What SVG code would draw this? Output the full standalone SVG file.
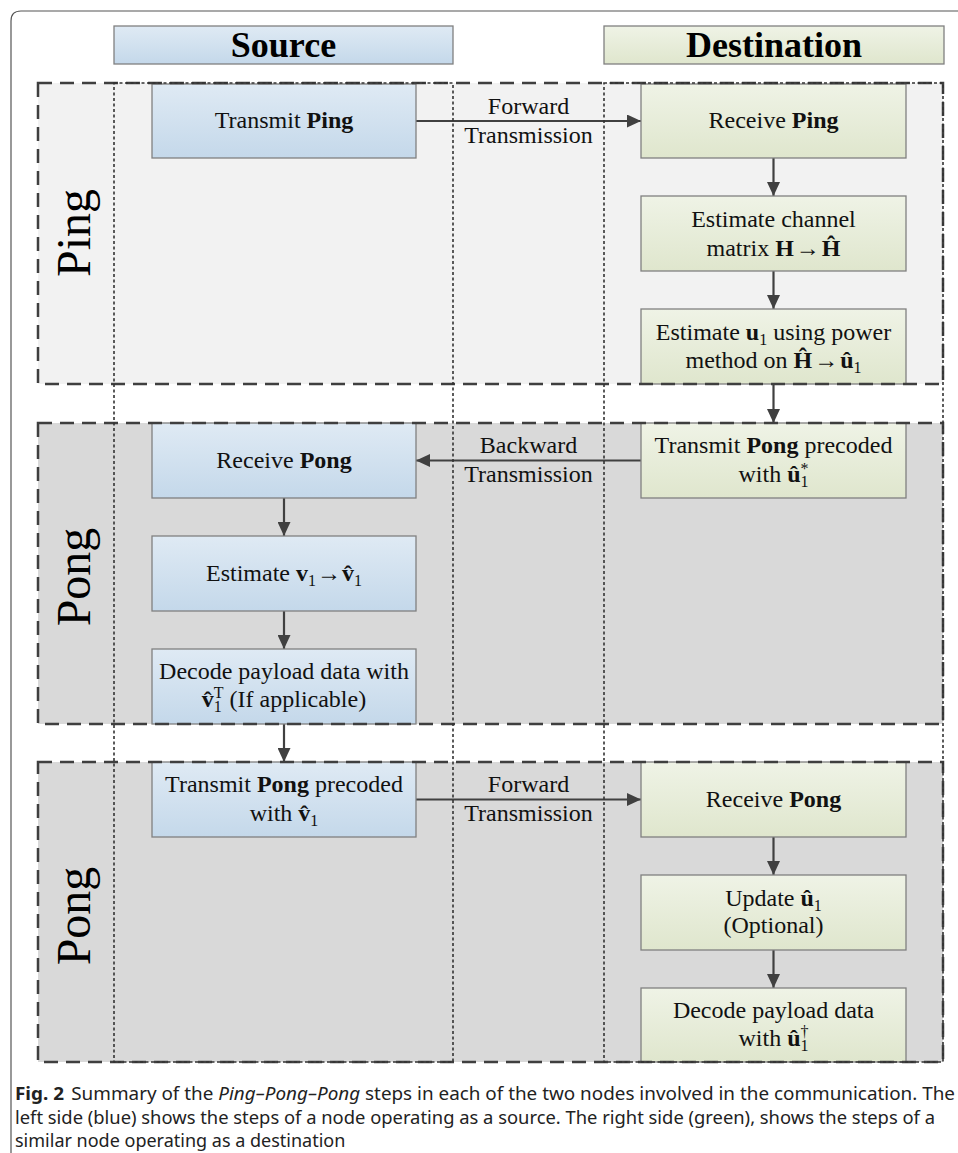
<svg xmlns="http://www.w3.org/2000/svg" width="958" height="1153" viewBox="0 0 958 1153">
<defs>
<linearGradient id="gb" x1="0" y1="0" x2="0" y2="1"><stop offset="0" stop-color="#dfeaf4"/><stop offset="1" stop-color="#c4d8ea"/></linearGradient>
<linearGradient id="gg" x1="0" y1="0" x2="0" y2="1"><stop offset="0" stop-color="#eff3e6"/><stop offset="1" stop-color="#dfe6cd"/></linearGradient>
<marker id="ah" markerUnits="userSpaceOnUse" markerWidth="14" markerHeight="13" refX="14" refY="6.5" orient="auto"><path d="M0,0 L14,6.5 L0,13 z" fill="#404040"/></marker>
<style>
.frame{fill:none;stroke:#555;stroke-width:1.2}
.sping{fill:#f2f2f2}
.spong{fill:#d9d9d9}
.secb{fill:none;stroke:#3f3f3f;stroke-width:2.5;stroke-dasharray:14 8}
.col{fill:none;stroke:#333;stroke-width:1.6;stroke-dasharray:3 2.5}
.nb{fill:url(#gb);stroke:#808080;stroke-width:1.3}
.ng{fill:url(#gg);stroke:#808080;stroke-width:1.3}
.t{font-family:"Liberation Serif","Times New Roman",serif;font-size:24px;fill:#111;text-anchor:middle}
.h{font-family:"Liberation Serif","Times New Roman",serif;font-size:36px;font-weight:bold;fill:#000;text-anchor:middle}
.lab{font-family:"Liberation Serif","Times New Roman",serif;font-size:48px;fill:#000;text-anchor:middle}
.b{font-weight:bold}
.s{font-size:16px}
.conn{stroke:#404040;stroke-width:2.2;fill:none;marker-end:url(#ah)}
.cap{font-family:"Noto Sans","Open Sans","DejaVu Sans",sans-serif;font-size:18px;fill:#222}
</style>
</defs>

<path class="frame" d="M11,1153 V21 Q11,11 21,11 H958"/>

<g id="sections">
<rect class="sping" x="38" y="83" width="905" height="301"/>
<rect class="spong" x="38" y="423" width="905" height="301"/>
<rect class="spong" x="38" y="762" width="905" height="300"/>
</g>

<g id="header-source">
<rect class="nb" x="114" y="26" width="339" height="38"/>
<text class="h" x="283.5" y="57">Source</text>
</g>
<g id="header-destination">
<rect class="ng" x="604" y="26" width="340" height="38"/>
<text class="h" x="774" y="57">Destination</text>
</g>

<g id="phase-labels">
<text class="lab" x="90" y="233" transform="rotate(-90 90 233)">Ping</text>
<text class="lab" x="90" y="577" transform="rotate(-90 90 577)">Pong</text>
<text class="lab" x="90" y="916" transform="rotate(-90 90 916)">Pong</text>
</g>

<g id="connectors">
<line class="conn" x1="416" y1="121" x2="641" y2="121"/>
<line class="conn" x1="641" y1="460.5" x2="416" y2="460.5"/>
<line class="conn" x1="416" y1="799.5" x2="641" y2="799.5"/>
<line class="conn" x1="773.5" y1="158" x2="773.5" y2="196"/>
<line class="conn" x1="773.5" y1="271" x2="773.5" y2="309"/>
<line class="conn" x1="773.5" y1="384" x2="773.5" y2="423"/>
<line class="conn" x1="284" y1="498" x2="284" y2="536"/>
<line class="conn" x1="284" y1="611" x2="284" y2="649"/>
<line class="conn" x1="284" y1="724" x2="284" y2="762"/>
<line class="conn" x1="773.5" y1="837" x2="773.5" y2="875"/>
<line class="conn" x1="773.5" y1="950" x2="773.5" y2="988"/>
<text class="t" x="528.5" y="114">Forward</text>
<text class="t" x="528.5" y="143">Transmission</text>
<text class="t" x="528.5" y="453">Backward</text>
<text class="t" x="528.5" y="482">Transmission</text>
<text class="t" x="528.5" y="792">Forward</text>
<text class="t" x="528.5" y="821">Transmission</text>
</g>

<g id="src-transmit-ping">
<rect class="nb" x="152" y="84" width="264" height="74"/>
<text class="t" x="284" y="128">Transmit <tspan class="b">Ping</tspan></text>
</g>
<g id="src-receive-pong">
<rect class="nb" x="152" y="423" width="264" height="75"/>
<text class="t" x="284" y="468">Receive <tspan class="b">Pong</tspan></text>
</g>
<g id="src-estimate-v">
<rect class="nb" x="152" y="536" width="264" height="75"/>
<text class="t" x="284" y="581">Estimate <tspan class="b">v</tspan><tspan class="s" dy="5">1</tspan><tspan dy="-5" dx="1">→</tspan><tspan class="b" dx="1">v̂</tspan><tspan class="s" dy="5">1</tspan></text>
</g>
<g id="src-decode">
<rect class="nb" x="152" y="649" width="264" height="75"/>
<text class="t" x="284" y="679">Decode payload data with</text>
<text class="t" x="284" y="707"><tspan class="b">v̂</tspan><tspan class="s" dy="5">1</tspan><tspan class="s" dx="-8" dy="-14">T</tspan><tspan dy="9"> (If applicable)</tspan></text>
</g>
<g id="src-transmit-pong">
<rect class="nb" x="152" y="762" width="264" height="75"/>
<text class="t" x="284" y="792">Transmit <tspan class="b">Pong</tspan> precoded</text>
<text class="t" x="284" y="821">with <tspan class="b">v̂</tspan><tspan class="s" dy="5">1</tspan></text>
</g>

<g id="dst-receive-ping">
<rect class="ng" x="641" y="84" width="265" height="74"/>
<text class="t" x="773.5" y="128">Receive <tspan class="b">Ping</tspan></text>
</g>
<g id="dst-estimate-h">
<rect class="ng" x="641" y="196" width="265" height="75"/>
<text class="t" x="773.5" y="227">Estimate channel</text>
<text class="t" x="773.5" y="256">matrix <tspan class="b">H</tspan><tspan dx="2">→</tspan><tspan class="b" dx="2">Ĥ</tspan></text>
</g>
<g id="dst-estimate-u">
<rect class="ng" x="641" y="309" width="265" height="75"/>
<text class="t" x="773.5" y="340">Estimate <tspan class="b">u</tspan><tspan class="s" dy="5">1</tspan><tspan dy="-5"> using power</tspan></text>
<text class="t" x="773.5" y="368">method on <tspan class="b">Ĥ</tspan><tspan dx="2">→</tspan><tspan class="b" dx="2">û</tspan><tspan class="s" dy="5">1</tspan></text>
</g>
<g id="dst-transmit-pong">
<rect class="ng" x="641" y="423" width="265" height="75"/>
<text class="t" x="773.5" y="453">Transmit <tspan class="b">Pong</tspan> precoded</text>
<text class="t" x="773.5" y="482">with <tspan class="b">û</tspan><tspan class="s" dy="5">1</tspan><tspan class="s" dx="-8" dy="-13">*</tspan></text>
</g>
<g id="dst-receive-pong">
<rect class="ng" x="641" y="762" width="265" height="75"/>
<text class="t" x="773.5" y="807">Receive <tspan class="b">Pong</tspan></text>
</g>
<g id="dst-update">
<rect class="ng" x="641" y="875" width="265" height="75"/>
<text class="t" x="773.5" y="906">Update <tspan class="b">û</tspan><tspan class="s" dy="5">1</tspan></text>
<text class="t" x="773.5" y="933">(Optional)</text>
</g>
<g id="dst-decode">
<rect class="ng" x="641" y="988" width="265" height="74"/>
<text class="t" x="773.5" y="1018">Decode payload data</text>
<text class="t" x="773.5" y="1046">with <tspan class="b">û</tspan><tspan class="s" dy="5">1</tspan><tspan class="s" dx="-8" dy="-14">†</tspan></text>
</g>

<g id="section-borders">
<rect class="secb" x="38" y="83" width="905" height="301"/>
<rect class="secb" x="38" y="423" width="905" height="301"/>
<rect class="secb" x="38" y="762" width="905" height="300"/>
</g>
<g id="columns">
<rect class="col" x="114" y="83" width="339" height="979"/>
<rect class="col" x="604" y="83" width="339" height="979"/>
</g>

<g id="caption">
<text class="cap" x="15" y="1100" textLength="940" lengthAdjust="spacingAndGlyphs"><tspan font-weight="bold">Fig. 2</tspan><tspan dx="7">Summary of the </tspan><tspan font-style="italic">Ping–Pong–Pong</tspan> steps in each of the two nodes involved in the communication. The</text>
<text class="cap" x="15" y="1124" textLength="920" lengthAdjust="spacingAndGlyphs">left side (blue) shows the steps of a node operating as a source. The right side (green), shows the steps of a</text>
<text class="cap" x="15" y="1147">similar node operating as a destination</text>
</g>
</svg>
